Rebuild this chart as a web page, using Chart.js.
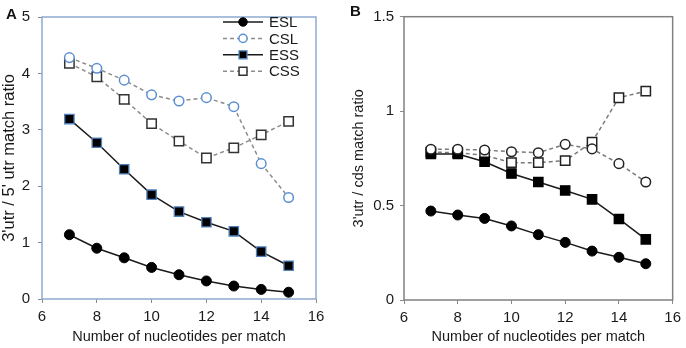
<!DOCTYPE html>
<html><head><meta charset="utf-8">
<script src="https://cdn.jsdelivr.net/npm/chart.js@4/dist/chart.umd.min.js"></script>
<style>
body{margin:0;background:#fff;width:686px;height:348px;position:relative;overflow:hidden;font-family:"Liberation Sans",Arial,sans-serif}
#wa{position:absolute;left:0;top:0;width:345px;height:348px}
#wb{position:absolute;left:345px;top:0;width:341px;height:348px}
.lbl{position:absolute;font-weight:bold;font-size:15px;color:#111;line-height:15px}
</style></head><body>
<div id="wa"><canvas id="ca" width="345" height="348"></canvas></div>
<div id="wb"><canvas id="cb" width="341" height="348"></canvas></div>
<div class="lbl" style="left:6px;top:6px">A</div>
<div class="lbl" style="left:350px;top:3px">B</div>
<script>
// ---- data ----
const matchLength = [7, 8, 9, 10, 11, 12, 13, 14, 15];
const seriesNames = ['ESL', 'CSL', 'ESS', 'CSS'];
// Panel A: 3'utr / 5' utr match ratio
const eslA = [1.14, 0.90, 0.73, 0.56, 0.43, 0.32, 0.23, 0.17, 0.12];
const cslA = [4.28, 4.09, 3.88, 3.62, 3.51, 3.57, 3.41, 2.40, 1.80];
const essA = [3.19, 2.77, 2.30, 1.85, 1.55, 1.36, 1.20, 0.84, 0.59];
const cssA = [4.18, 3.94, 3.54, 3.11, 2.80, 2.50, 2.68, 2.91, 3.15];
// Panel B: 3'utr / cds match ratio
const eslB = [0.471, 0.450, 0.432, 0.392, 0.346, 0.305, 0.259, 0.226, 0.192];
const cslB = [0.798, 0.798, 0.794, 0.785, 0.780, 0.824, 0.800, 0.722, 0.625];
const essB = [0.773, 0.773, 0.732, 0.670, 0.625, 0.580, 0.533, 0.429, 0.321];
const cssB = [0.783, 0.780, 0.766, 0.727, 0.727, 0.738, 0.836, 1.071, 1.106];
const xTitle = 'Number of nucleotides per match';
const yTitleA = "3'utr / 5' utr match ratio";
const yTitleB = "3'utr / cds match ratio";

const FONT = '"Liberation Sans", Arial, sans-serif';
const pts = ys => matchLength.map((x, i) => ({x, y: ys[i]}));

function makeDatasets(vals, markerBlue, solidColor, dashColor, openColor) {
  const [esl, csl, ess, css] = vals;
  return [
    {label: seriesNames[0], data: pts(esl), borderColor: solidColor, borderWidth: 1.5,
     pointStyle: 'circle', pointRadius: 5, pointBackgroundColor: '#000', pointBorderColor: '#000', pointBorderWidth: 1},
    {label: seriesNames[1], data: pts(csl), borderColor: dashColor, borderWidth: 1.5, borderDash: [4, 3],
     pointStyle: 'circle', pointRadius: 4.8, pointBackgroundColor: '#fff', pointBorderColor: markerBlue ? '#5b8fd3' : openColor, pointBorderWidth: 1.5},
    {label: seriesNames[2], data: pts(ess), borderColor: solidColor, borderWidth: 1.5,
     pointStyle: 'rect', pointRadius: 6.6, pointBackgroundColor: '#000', pointBorderColor: markerBlue ? '#4f81bd' : '#000', pointBorderWidth: 1.3},
    {label: seriesNames[3], data: pts(css), borderColor: dashColor, borderWidth: 1.5, borderDash: [4, 3],
     pointStyle: 'rect', pointRadius: 6.6, pointBackgroundColor: '#fff', pointBorderColor: openColor, pointBorderWidth: 1.5}
  ];
}

const framePlugin = {
  id: 'frame',
  beforeDatasetsDraw(chart, args, o) {
    const a = chart.chartArea, ctx = chart.ctx;
    ctx.save();
    ctx.strokeStyle = o.color; ctx.lineWidth = o.width;
    ctx.strokeRect(a.left, a.top, a.right - a.left, a.bottom - a.top);
    ctx.restore();
  }
};

const insideLegend = {
  id: 'insideLegend',
  afterDatasetsDraw(chart, args, o) {
    if (!o.show) return;
    const ctx = chart.ctx;
    ctx.save();
    chart.data.datasets.forEach((ds, i) => {
      const y = o.y0 + i * o.dy;
      ctx.setLineDash(ds.borderDash || []);
      ctx.strokeStyle = ds.borderColor; ctx.lineWidth = ds.borderWidth;
      ctx.beginPath(); ctx.moveTo(o.x1, y); ctx.lineTo(o.x2, y); ctx.stroke();
      ctx.setLineDash([]);
      ctx.fillStyle = ds.pointBackgroundColor; ctx.strokeStyle = ds.pointBorderColor;
      ctx.lineWidth = ds.pointBorderWidth;
      Chart.helpers.drawPoint(ctx, {pointStyle: ds.pointStyle, radius: ds.pointRadius * 0.85, borderWidth: ds.pointBorderWidth, rotation: 0}, (o.x1 + o.x2) / 2, y);
      ctx.fillStyle = '#1a1a1a'; ctx.font = '15px ' + FONT; ctx.textBaseline = 'middle'; ctx.textAlign = 'left';
      ctx.fillText(ds.label, o.tx, y + 1);
    });
    ctx.restore();
  }
};

function makeChart(id, datasets, c) {
  return new Chart(document.getElementById(id), {
    type: 'line',
    data: {datasets},
    options: {
      responsive: false, animation: false, devicePixelRatio: 1,
      layout: {padding: {top: c.padTop, right: c.padRight, left: 0, bottom: 0}},
      elements: {line: {tension: 0}},
      plugins: {legend: {display: false}, tooltip: {enabled: false},
        frame: {color: c.frameColor, width: c.frameWidth},
        insideLegend: c.legend},
      scales: {
        x: {type: 'linear', min: 6, max: 16,
          ticks: {stepSize: 2, font: {family: FONT, size: 15}, color: '#1a1a1a', padding: 5, maxRotation: 0},
          grid: {drawOnChartArea: false, drawTicks: true, tickLength: 4, color: '#8a8a8a'},
          border: {display: false},
          title: {display: true, text: xTitle, font: {family: FONT, size: 14.5}, color: '#1a1a1a', padding: {top: 0, bottom: 2}},
          afterFit: s => { s.height = c.xHeight; }},
        y: {min: c.yMin, max: c.yMax,
          ticks: {stepSize: c.yStep, font: {family: FONT, size: 15}, color: '#1a1a1a', padding: c.yTickPad,
            callback: v => String(v)},
          grid: {drawOnChartArea: false, drawTicks: true, tickLength: 4, color: '#8a8a8a'},
          border: {display: false},
          title: {display: true, text: c.yTitle, font: {family: FONT, size: c.yTitleSize}, color: '#1a1a1a', padding: {top: c.yTitlePad, bottom: 0}},
          afterFit: s => { s.width = c.yWidth; }}
      }
    },
    plugins: [framePlugin, insideLegend]
  });
}

makeChart('ca', makeDatasets([eslA, cslA, essA, cssA], true, '#1a1a1a', '#8c8c8c', '#333'), {
  padTop: 9.5, padRight: 29, xHeight: 49, yWidth: 42, yMin: 0, yMax: 5, yStep: 1, yTickPad: 8,
  yTitle: yTitleA, yTitleSize: 16.5, yTitlePad: 0, frameColor: '#8eaad0', frameWidth: 1.5,
  legend: {show: true, x1: 223, x2: 263, tx: 269, y0: 22, dy: 16.4}
});
makeChart('cb', makeDatasets([eslB, cslB, essB, cssB], false, '#1a1a1a', '#7a7a7a', '#222'), {
  padTop: 16.7, padRight: 11, xHeight: 48, yWidth: 59, yMin: 0, yMax: 1.5, yStep: 0.5, yTickPad: 6,
  yTitle: yTitleB, yTitleSize: 14.5, yTitlePad: 5, frameColor: '#808080', frameWidth: 1.5,
  legend: {show: false}
});
</script>
</body></html>
